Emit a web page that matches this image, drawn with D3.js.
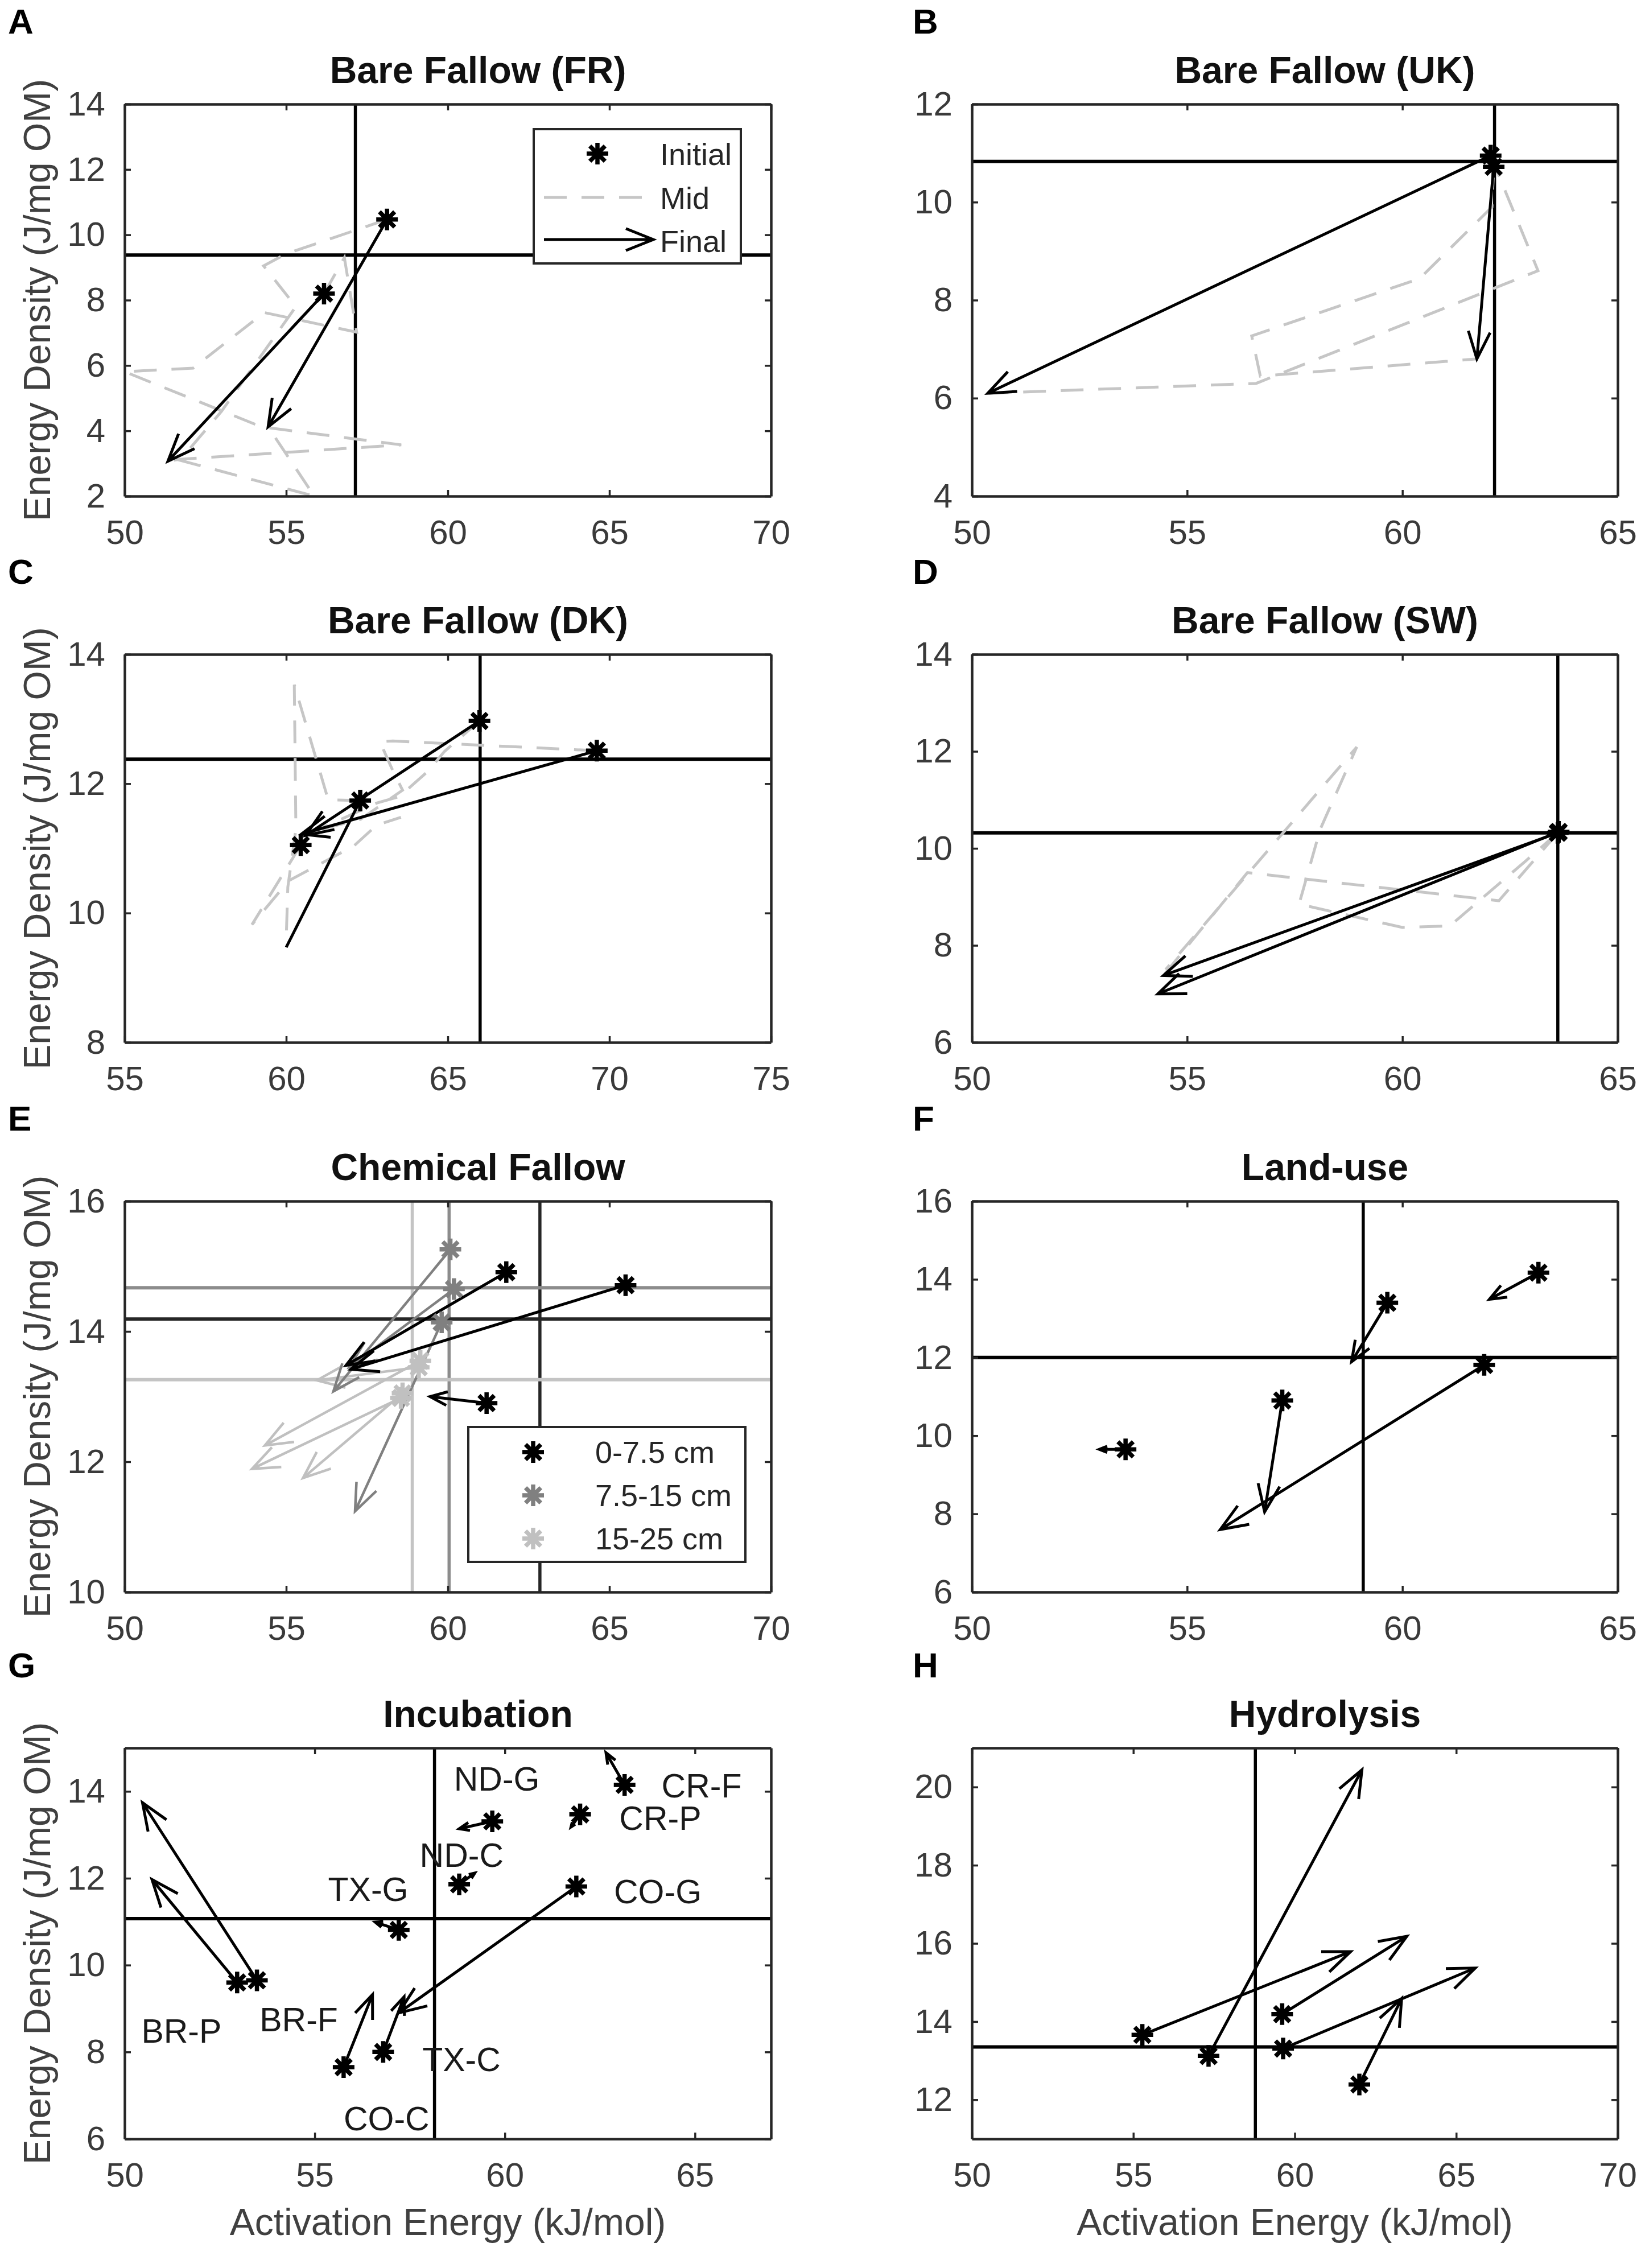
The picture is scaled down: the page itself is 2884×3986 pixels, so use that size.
<!DOCTYPE html>
<html lang="en">
<head>
<meta charset="utf-8">
<script src="https://d3js.org/d3.v7.min.js"></script>
<style>
  body { margin: 0; background: #fff; }
  text { font-family: "Liberation Sans", Arial, Helvetica, sans-serif; }
  .panel-letter { font-size: 62px; font-weight: bold; fill: #000; }
  .title { font-size: 66px; font-weight: bold; fill: #111; }
  .axis-label { font-size: 66px; fill: #404040; }
  .legend text { font-size: 54px; fill: #262626; }
  .tag { font-size: 59px; fill: #1a1a1a; }
</style>
</head>
<body>
<svg width="2884" height="3986"></svg>
<script>
// ---- data (activation energy kJ/mol, energy density J/mg OM) ----

// A: Bare Fallow (FR)
const aInitial = [[58.12, 10.47], [56.17, 8.2]];
const aFinal = [[54.44, 4.12], [51.34, 3.07]];
const aMid = [
  [[58.12, 10.47], [54.98, 9.41], [54.3, 9.05], [55.3, 7.8], [53.0, 4.6], [51.71, 3.1], [55.87, 2.0], [54.44, 4.12]],
  [[56.17, 8.2], [56.8, 9.3], [57.18, 7.02], [54.32, 7.62], [52.12, 5.92], [50.0, 5.81], [54.24, 4.12], [58.56, 3.57], [51.71, 3.13], [51.34, 3.07]]
];
const aRefX = [57.14], aRefY = [9.38];

// B: Bare Fallow (UK)
const bInitial = [[62.05, 10.95], [62.12, 10.72]];
const bFinal = [[50.37, 6.1], [61.73, 6.8]];
const bMid = [
  [[62.05, 10.95], [63.15, 8.6], [56.6, 6.3], [50.4, 6.1]],
  [[62.12, 10.72], [62.08, 9.9], [60.4, 8.44], [56.5, 7.27], [56.7, 6.45], [61.73, 6.8]]
];
const bRefX = [62.14], bRefY = [10.83];

// C: Bare Fallow (DK)
const cInitial = [[65.98, 12.97], [69.61, 12.51], [62.29, 11.74], [60.45, 11.05]];
const cFinal = [[60.6, 11.2], [60.47, 11.22], [60.0, 9.47]];
const cHeadless = [2];
const cMid = [
  [[69.61, 12.51], [63.3, 12.66], [62.9, 12.65], [63.3, 12.2], [63.6, 11.9], [62.3, 11.45], [60.47, 11.22]],
  [[65.98, 12.97], [64.9, 12.5], [64.4, 12.2], [63.5, 11.8], [62.8, 11.7], [60.6, 11.2]],
  [[62.29, 11.74], [61.3, 11.75], [60.25, 13.53], [60.3, 11.3], [60.05, 10.4], [60.0, 9.6]],
  [[60.45, 11.05], [58.94, 9.82], [60.08, 10.5], [62.1, 11.04], [62.8, 11.36], [63.55, 11.48]]
];
const cRefX = [66.0], cRefY = [12.38];

// D: Bare Fallow (SW)
const dInitial = [[63.61, 10.32], [63.63, 10.34]];
const dFinal = [[54.45, 7.38], [54.32, 7.0]];
const dMid = [
  [[63.61, 10.32], [62.24, 8.92], [56.4, 9.5], [54.45, 7.38]],
  [[63.61, 10.32], [62.85, 9.73], [61.1, 8.4], [60.0, 8.37], [57.6, 8.85], [58.09, 10.39], [58.94, 12.09], [54.5, 7.5]]
];
const dRefX = [63.61], dRefY = [10.32];

// E: Chemical Fallow, three depths
const eDepths = ['0-7.5 cm', '7.5-15 cm', '15-25 cm'];
const eColors = ['#000000', '#808080', '#c0c0c0'];
const eInitial = [
  [[61.81, 14.91], [65.5, 14.71], [61.2, 12.9]],
  [[60.08, 15.26], [60.19, 14.65], [59.81, 14.14]],
  [[59.1, 13.45], [59.15, 13.55], [58.55, 12.98], [58.6, 13.05]]
];
const eFinal = [
  [[56.85, 13.48], [57.0, 13.42], [59.45, 13.0]],
  [[56.46, 13.08], [56.95, 13.45], [57.13, 11.24]],
  [[55.95, 13.25], [54.34, 12.25], [53.94, 11.89], [55.52, 11.75]]
];
const eRefX = [62.85, 60.04, 58.9];
const eRefY = [14.19, 14.67, 13.26];

// F: Land-use
const fInitial = [[63.16, 14.17], [59.65, 13.4], [61.9, 11.81], [57.21, 10.9], [53.57, 9.65]];
const fFinal = [[62.02, 13.49], [58.82, 11.89], [55.77, 7.6], [56.8, 8.05], [52.96, 9.65]];
const fRefX = [59.09], fRefY = [12.0];

// G: Incubation
const gSites = ['CR-F', 'CR-P', 'ND-G', 'ND-C', 'CO-G', 'TX-G', 'BR-P', 'BR-F', 'CO-C', 'TX-C'];
const gInitial = [[63.15, 14.15], [61.98, 13.47], [59.67, 13.31], [58.8, 11.86], [61.88, 11.81],
                  [57.21, 10.81], [52.96, 9.6], [53.48, 9.65], [55.76, 7.65], [56.8, 8.0]];
const gFinal = [[62.66, 14.89], [61.74, 13.18], [58.8, 13.14], [59.21, 12.12], [57.21, 8.9],
                [56.59, 10.99], [50.72, 11.97], [50.47, 13.74], [56.52, 9.32], [57.35, 9.27]];
const gTagAt = [[64.12, 13.86], [63.01, 13.12], [58.66, 14.02], [57.76, 12.26], [62.87, 11.42],
                [55.35, 11.47], [50.44, 8.22], [53.55, 8.48], [55.76, 6.19], [57.83, 7.56]];
const gRefX = [58.15], gRefY = [11.07];

// H: Hydrolysis
const hInitial = [[55.28, 13.66], [57.33, 13.12], [59.61, 14.19], [59.64, 13.31], [62.0, 12.39]];
const hFinal = [[61.73, 15.79], [62.08, 20.44], [63.47, 16.18], [65.59, 15.37], [63.31, 14.59]];
const hRefX = [58.78], hRefY = [13.35];

// ---- layout ----
const colL = [219, 1355], colR = [1708, 2843];
const rows = [[183, 872], [1150, 1832], [2111, 2798], [3072, 3759]];
const ticks5 = (a, b) => d3.range(a, b + 0.1, 5);
const ticks2 = (a, b) => d3.range(a, b + 0.1, 2);
const black = '#000000';

const panels = [
  { id: 'A', title: 'Bare Fallow (FR)', col: colL, row: rows[0], xd: [50, 70], xt: ticks5(50, 70), yd: [2, 14], yt: ticks2(2, 14), ylab: true,
    series: [{ color: black, initial: aInitial, final: aFinal, mid: aMid }], refX: aRefX, refY: aRefY, refC: [black] },
  { id: 'B', title: 'Bare Fallow (UK)', col: colR, row: rows[0], xd: [50, 65], xt: ticks5(50, 65), yd: [4, 12], yt: ticks2(4, 12),
    series: [{ color: black, initial: bInitial, final: bFinal, mid: bMid }], refX: bRefX, refY: bRefY, refC: [black] },
  { id: 'C', title: 'Bare Fallow (DK)', col: colL, row: rows[1], xd: [55, 75], xt: ticks5(55, 75), yd: [8, 14], yt: ticks2(8, 14), ylab: true,
    series: [{ color: black, initial: cInitial, final: cFinal, mid: cMid, headless: cHeadless }], refX: cRefX, refY: cRefY, refC: [black] },
  { id: 'D', title: 'Bare Fallow (SW)', col: colR, row: rows[1], xd: [50, 65], xt: ticks5(50, 65), yd: [6, 14], yt: ticks2(6, 14),
    series: [{ color: black, initial: dInitial, final: dFinal, mid: dMid }], refX: dRefX, refY: dRefY, refC: [black] },
  { id: 'E', title: 'Chemical Fallow', col: colL, row: rows[2], xd: [50, 70], xt: ticks5(50, 70), yd: [10, 16], yt: ticks2(10, 16), ylab: true,
    series: eColors.map((c, i) => ({ color: c, initial: eInitial[i], final: eFinal[i], mid: [] })).reverse(),
    refX: eRefX, refY: eRefY, refC: ['#262626', '#8c8c8c', '#c4c4c4'] },
  { id: 'F', title: 'Land-use', col: colR, row: rows[2], xd: [50, 65], xt: ticks5(50, 65), yd: [6, 16], yt: ticks2(6, 16),
    series: [{ color: black, initial: fInitial, final: fFinal, mid: [] }], refX: fRefX, refY: fRefY, refC: [black] },
  { id: 'G', title: 'Incubation', col: colL, row: rows[3], xd: [50, 67], xt: ticks5(50, 65), yd: [6, 15], yt: ticks2(6, 14), ylab: true, xlab: true,
    series: [{ color: black, initial: gInitial, final: gFinal, mid: [] }], refX: gRefX, refY: gRefY, refC: [black] },
  { id: 'H', title: 'Hydrolysis', col: colR, row: rows[3], xd: [50, 70], xt: ticks5(50, 70), yd: [11, 21], yt: ticks2(12, 20), xlab: true,
    series: [{ color: black, initial: hInitial, final: hFinal, mid: [] }], refX: hRefX, refY: hRefY, refC: [black] }
];

const svg = d3.select('svg');
svg.append('rect').attr('width', 2884).attr('height', 3986).attr('fill', '#fff');

function arrow(sel, x1, y1, x2, y2, color, sw, headless) {
  const dx = x2 - x1, dy = y2 - y1, len = Math.hypot(dx, dy);
  if (len < 1) return;
  const ux = dx / len, uy = dy / len;
  const h = Math.min(48, len * 0.3), w = h * 0.4;
  const bx = x2 - ux * h, by = y2 - uy * h;
  let d = `M${x1},${y1}L${x2},${y2}`;
  if (!headless) d += `M${bx - uy * w},${by + ux * w}L${x2},${y2}L${bx + uy * w},${by - ux * w}`;
  sel.append('path').attr('d', d)
    .attr('fill', 'none').attr('stroke', color).attr('stroke-width', sw || 5)
    .attr('stroke-linejoin', 'miter');
}

function star(sel, cx, cy, color) {
  const r = 19;
  let d = '';
  for (let k = 0; k < 4; k++) {
    const a = k * Math.PI / 4, c = Math.cos(a) * r, s = Math.sin(a) * r;
    d += `M${cx - c},${cy - s}L${cx + c},${cy + s}`;
  }
  sel.append('path').attr('d', d).attr('stroke', color).attr('stroke-width', 7.5).attr('fill', 'none');
}

const line = d3.line();

panels.forEach(p => {
  const [left, right] = p.col, [top, bottom] = p.row;
  const x = d3.scaleLinear().domain(p.xd).range([left, right]);
  const y = d3.scaleLinear().domain(p.yd).range([bottom, top]);
  const g = svg.append('g');

  // panel letter
  g.append('text').attr('class', 'panel-letter')
    .attr('x', left === 219 ? 14 : 1604).attr('y', top - 124).text(p.id);
  // title (sits a little right of the axes centre in the original)
  g.append('text').attr('class', 'title').attr('text-anchor', 'middle')
    .attr('x', (left + right) / 2 + 53).attr('y', top - 37).text(p.title);

  svg.append('clipPath').attr('id', 'clip' + p.id).append('rect')
    .attr('x', left).attr('y', top).attr('width', right - left).attr('height', bottom - top);
  const plot = g.append('g').attr('clip-path', `url(#clip${p.id})`);

  // reference lines: verticals first, then horizontals
  p.refX.forEach((v, i) => plot.append('line')
    .attr('x1', x(v)).attr('x2', x(v)).attr('y1', top).attr('y2', bottom)
    .attr('stroke', p.refC[i]).attr('stroke-width', 5.5));
  p.refY.forEach((v, i) => plot.append('line')
    .attr('x1', left).attr('x2', right).attr('y1', y(v)).attr('y2', y(v))
    .attr('stroke', p.refC[i]).attr('stroke-width', 6));

  // intermediate (mid) trajectories
  p.series.forEach(s => s.mid.forEach(path => plot.append('path')
    .attr('d', line(path.map(d => [x(d[0]), y(d[1])])))
    .attr('fill', 'none').attr('stroke', '#c6c6c6').attr('stroke-width', 5)
    .attr('stroke-dasharray', '40,26')));

  // initial -> final arrows
  p.series.forEach(s => s.final.forEach((f, i) => {
    const d = s.initial[i];
    const noHead = s.headless && s.headless.includes(i);
    arrow(plot, x(d[0]), y(d[1]), x(f[0]), y(f[1]), s.color, s.color === black ? 5 : 4.5, noHead);
  }));

  // initial markers
  p.series.forEach(s => s.initial.forEach(d => star(g, x(d[0]), y(d[1]), s.color)));

  // axes: inward ticks on all four sides
  const axStyle = a => {
    a.selectAll('.domain').attr('stroke', '#262626').attr('stroke-width', 4.5);
    a.selectAll('.tick line').attr('stroke', '#262626').attr('stroke-width', 3.5);
    a.selectAll('.tick text').attr('font-size', 60).attr('fill', '#3a3a3a')
      .attr('font-family', '"Liberation Sans", Arial, Helvetica, sans-serif');
  };
  g.append('g').attr('transform', `translate(0,${bottom})`)
    .call(d3.axisBottom(x).tickValues(p.xt).tickSize(-11).tickSizeOuter(0).tickPadding(41).tickFormat(d3.format('d')))
    .call(axStyle);
  g.append('g').attr('transform', `translate(0,${top})`)
    .call(d3.axisTop(x).tickValues(p.xt).tickSize(-11).tickSizeOuter(0).tickFormat(''))
    .call(axStyle);
  g.append('g').attr('transform', `translate(${left},0)`)
    .call(d3.axisLeft(y).tickValues(p.yt).tickSize(-11).tickSizeOuter(0).tickPadding(34).tickFormat(d3.format('d')))
    .call(axStyle);
  g.append('g').attr('transform', `translate(${right},0)`)
    .call(d3.axisRight(y).tickValues(p.yt).tickSize(-11).tickSizeOuter(0).tickFormat(''))
    .call(axStyle);

  if (p.ylab) {
    const cy = (top + bottom) / 2;
    g.append('text').attr('class', 'axis-label').attr('text-anchor', 'middle')
      .attr('transform', `translate(88,${cy}) rotate(-90)`).text('Energy Density (J/mg OM)');
  }
  if (p.xlab) {
    g.append('text').attr('class', 'axis-label').attr('text-anchor', 'middle')
      .attr('x', (left + right) / 2).attr('y', bottom + 169).text('Activation Energy (kJ/mol)');
  }

  // site tags for incubation panel
  if (p.id === 'G') {
    gSites.forEach((t, i) => g.append('text').attr('class', 'tag')
      .attr('x', x(gTagAt[i][0])).attr('y', y(gTagAt[i][1])).text(t));
  }

  // legends
  if (p.id === 'A') {
    const lg = g.append('g').attr('class', 'legend');
    lg.append('rect').attr('x', 938).attr('y', 227).attr('width', 364).attr('height', 236)
      .attr('fill', '#fff').attr('stroke', '#262626').attr('stroke-width', 4);
    star(lg, 1050, 270, black);
    lg.append('text').attr('x', 1160).attr('y', 290).text('Initial');
    lg.append('line').attr('x1', 956).attr('x2', 1150).attr('y1', 347).attr('y2', 347)
      .attr('stroke', '#c6c6c6').attr('stroke-width', 5).attr('stroke-dasharray', '40,26');
    lg.append('text').attr('x', 1160).attr('y', 367).text('Mid');
    arrow(lg, 956, 421, 1148, 421, black, 5);
    lg.append('text').attr('x', 1160).attr('y', 443).text('Final');
  }
  if (p.id === 'E') {
    const lg = g.append('g').attr('class', 'legend');
    lg.append('rect').attr('x', 823).attr('y', 2508).attr('width', 487).attr('height', 237)
      .attr('fill', '#fff').attr('stroke', '#262626').attr('stroke-width', 4);
    eDepths.forEach((t, i) => {
      const cy = 2552 + i * 76;
      star(lg, 937, cy, eColors[i]);
      lg.append('text').attr('x', 1046).attr('y', cy + 19).text(t);
    });
  }
});
</script>
</body>
</html>
